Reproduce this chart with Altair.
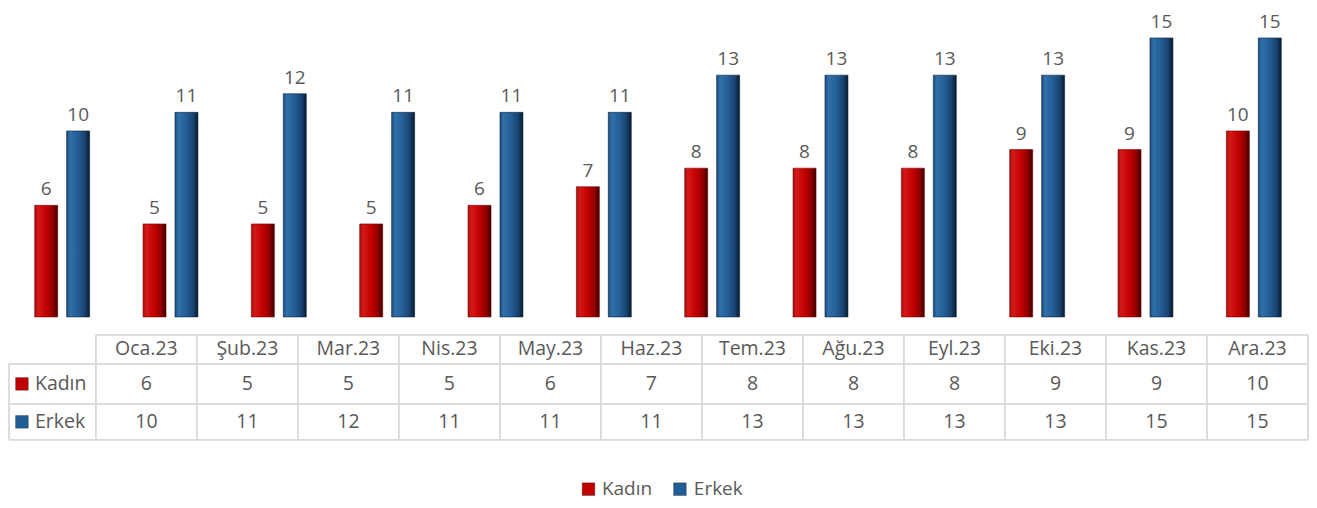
import altair as alt
import pandas as pd

# ---- data ----
months = ["Oca.23", "Şub.23", "Mar.23", "Nis.23", "May.23", "Haz.23",
          "Tem.23", "Ağu.23", "Eyl.23", "Eki.23", "Kas.23", "Ara.23"]
series = ["Kadın", "Erkek"]
kadin = [6, 5, 5, 5, 6, 7, 8, 8, 8, 9, 9, 10]
erkek = [10, 11, 12, 11, 11, 11, 13, 13, 13, 13, 15, 15]

# ---- style ----
FONT = "Open Sans"
TXT = "#595959"
GRID = "#d9d9d9"
RED = "#c00000"
BLUE = "#215d96"

red_grad = alt.Gradient(
    gradient="linear", x1=0, x2=1, y1=0, y2=0,
    stops=[alt.GradientStop(color="#a51010", offset=0),
           alt.GradientStop(color="#d41818", offset=0.15),
           alt.GradientStop(color="#c20000", offset=0.5),
           alt.GradientStop(color="#8e0000", offset=0.8),
           alt.GradientStop(color="#3a0000", offset=1)])
blue_grad = alt.Gradient(
    gradient="linear", x1=0, x2=1, y1=0, y2=0,
    stops=[alt.GradientStop(color="#1d4c7a", offset=0),
           alt.GradientStop(color="#3070ab", offset=0.15),
           alt.GradientStop(color="#245d94", offset=0.5),
           alt.GradientStop(color="#184270", offset=0.8),
           alt.GradientStop(color="#08192c", offset=1)])

W = 1301
H_BARS = 309
H_TABLE = 183

# ---- bar chart ----
bars_df = pd.DataFrame({
    "month": months * 2,
    "series": [series[0]] * len(months) + [series[1]] * len(months),
    "value": kadin + erkek,
})

x_enc = alt.X("month:N", sort=months,
              scale=alt.Scale(domain=months, paddingInner=0.493, paddingOuter=0.2465),
              axis=None)
xo_enc = alt.XOffset("series:N",
                     scale=alt.Scale(domain=series, paddingInner=0.28, paddingOuter=0))
y_enc = alt.Y("value:Q", scale=alt.Scale(domain=[0, 16.6], nice=False, zero=True), axis=None)

base = alt.Chart(bars_df)
bar_k = base.transform_filter(alt.datum.series == "Kadın").mark_bar(
    color=red_grad, stroke="#7a0000", strokeWidth=0.6).encode(x=x_enc, xOffset=xo_enc, y=y_enc)
bar_e = base.transform_filter(alt.datum.series == "Erkek").mark_bar(
    color=blue_grad, stroke="#0c2640", strokeWidth=0.6).encode(x=x_enc, xOffset=xo_enc, y=y_enc)
labels = base.mark_text(baseline="bottom", dy=-6, fontSize=19, color=TXT, font=FONT).encode(
    x=x_enc, xOffset=xo_enc, y=y_enc, text="value:Q")

bars = alt.layer(bar_k, bar_e, labels).properties(width=W, height=H_BARS)

# ---- data table + legend ----
LEFT = -0.86
row_edges = [0, 0.83, 1.97, 3.0]          # header / Kadın / Erkek row boundaries
mid = [(row_edges[i] + row_edges[i + 1]) / 2 for i in range(3)]

cells = []
for i, m in enumerate(months):
    cells.append({"x": i + 0.5, "y": mid[0], "t": m})
    cells.append({"x": i + 0.5, "y": mid[1], "t": str(kadin[i])})
    cells.append({"x": i + 0.5, "y": mid[2], "t": str(erkek[i])})
cells_df = pd.DataFrame(cells)

row_df = pd.DataFrame({"series": series, "y": [mid[1], mid[2]],
                       "sx": [-0.732, -0.732], "tx": [-0.603, -0.603]})
leg_df = pd.DataFrame({"series": series, "y": [4.41, 4.41],
                       "sx": [4.877, 5.782], "tx": [5.01, 5.92]})

hlines = [{"x": 0, "x2": 12, "y": row_edges[0], "y2": row_edges[0]}] + \
         [{"x": LEFT, "x2": 12, "y": r, "y2": r} for r in row_edges[1:]]
vlines = [{"x": LEFT, "x2": LEFT, "y": row_edges[1], "y2": row_edges[3]}] + \
         [{"x": c, "x2": c, "y": row_edges[0], "y2": row_edges[3]} for c in range(13)]
lines_df = pd.DataFrame(hlines + vlines)

tx = alt.Scale(domain=[-0.87, 12], nice=False, zero=False)
ty = alt.Scale(domain=[-0.486, 4.743], nice=False, zero=False, reverse=True)
col = alt.Color("series:N", scale=alt.Scale(domain=series, range=[RED, BLUE]), legend=None)

grid = alt.Chart(lines_df).mark_rule(color=GRID, strokeWidth=1.8).encode(
    x=alt.X("x:Q", scale=tx, axis=None), x2="x2:Q",
    y=alt.Y("y:Q", scale=ty, axis=None), y2="y2:Q")
cell_text = alt.Chart(cells_df).mark_text(fontSize=19.5, color=TXT, font=FONT, baseline="middle").encode(
    x=alt.X("x:Q", scale=tx, axis=None), y=alt.Y("y:Q", scale=ty, axis=None), text="t:N")
row_sw = alt.Chart(row_df).mark_square(size=160, opacity=1, stroke="#333333", strokeWidth=0.4).encode(
    x=alt.X("sx:Q", scale=tx, axis=None), y=alt.Y("y:Q", scale=ty, axis=None), color=col)
row_tx = alt.Chart(row_df).mark_text(fontSize=19.5, color=TXT, font=FONT, align="left", baseline="middle").encode(
    x=alt.X("tx:Q", scale=tx, axis=None), y=alt.Y("y:Q", scale=ty, axis=None), text="series:N")
leg_sw = alt.Chart(leg_df).mark_square(size=160, opacity=1, stroke="#333333", strokeWidth=0.4).encode(
    x=alt.X("sx:Q", scale=tx, axis=None), y=alt.Y("y:Q", scale=ty, axis=None), color=col)
leg_tx = alt.Chart(leg_df).mark_text(fontSize=19, color=TXT, font=FONT, align="left", baseline="middle").encode(
    x=alt.X("tx:Q", scale=tx, axis=None), y=alt.Y("y:Q", scale=ty, axis=None), text="series:N")

table = alt.layer(grid, cell_text, row_sw, row_tx, leg_sw, leg_tx).properties(width=W, height=H_TABLE)

chart = (
    alt.vconcat(bars, table, spacing=0)
    .properties(padding=0)
    .configure(font=FONT)
    .configure_view(strokeWidth=0, stroke="transparent")
    .configure_concat(spacing=0)
)

chart.save("out.html", embed_options={"renderer": "svg", "actions": False})
